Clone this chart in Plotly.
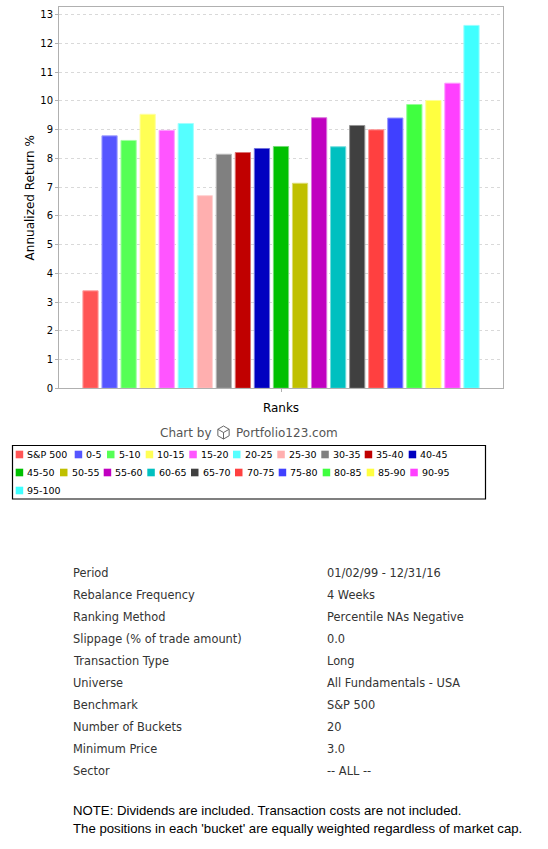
import plotly.graph_objects as go

# ---------------- data ----------------
categories = ["S&P 500", "0-5", "5-10", "10-15", "15-20", "20-25", "25-30", "30-35",
              "35-40", "40-45", "45-50", "50-55", "55-60", "60-65", "65-70", "70-75",
              "75-80", "80-85", "85-90", "90-95", "95-100"]
returns = [3.39, 8.78, 8.62, 9.53, 8.97, 9.21, 6.70, 8.14, 8.20, 8.34, 8.41,
           7.13, 9.41, 8.40, 9.14, 8.99, 9.40, 9.87, 10.01, 10.61, 12.62]
colors = ["#FF5555", "#5555FF", "#55FF55", "#FFFF55", "#FF55FF", "#55FFFF", "#FFAFAF",
          "#808080", "#C00000", "#0000C0", "#00C000", "#C0C000", "#C000C0", "#00C0C0",
          "#404040", "#FF4040", "#4040FF", "#40FF40", "#FFFF40", "#FF40FF", "#40FFFF"]
y_ticks = list(range(0, 14))

table_labels = ["Period", "Rebalance Frequency", "Ranking Method",
                "Slippage (% of trade amount)", "Transaction Type", "Universe",
                "Benchmark", "Number of Buckets", "Minimum Price", "Sector"]
table_values = ["01/02/99 - 12/31/16", "4 Weeks", "Percentile NAs Negative", "0.0",
                "Long", "All Fundamentals - USA", "S&P 500", "20", "3.0", "-- ALL --"]
note_lines = ["NOTE: Dividends are included. Transaction costs are not included.",
              "The positions in each 'bucket' are equally weighted regardless of market cap."]

# ---------------- geometry helpers ----------------
W, H = 548, 849
def px(x):
    return x / W
def py(y):
    return 1 - y / H

def lighten(hexc, f=0.45):
    hexc = hexc.lstrip("#")
    r, g, b = (int(hexc[i:i + 2], 16) for i in (0, 2, 4))
    r, g, b = (int(c + (255 - c) * f) for c in (r, g, b))
    return f"rgb({r},{g},{b})"

FONT = "DejaVu Sans"

fig = go.Figure()
for name, val, col in zip(categories, returns, colors):
    fig.add_trace(go.Bar(
        x=["Ranks"], y=[val], name=name,
        marker=dict(color=col, line=dict(color=lighten(col), width=1)),
        showlegend=False,
    ))

fig.update_layout(
    width=W, height=H, autosize=False,
    margin=dict(l=0, r=0, t=0, b=0),
    paper_bgcolor="white", plot_bgcolor="white",
    barmode="group", bargap=0.099, bargroupgap=0.2,
    font=dict(family=FONT, color="#000000"),
    xaxis=dict(
        domain=[px(59), px(503)],
        showticklabels=False, ticks="outside", ticklen=3, tickcolor="#b0b0b0",
        showline=True, linecolor="#b0b0b0", linewidth=1, mirror=True,
        showgrid=False, automargin=False,
        title=dict(text="Ranks", font=dict(size=12, color="#000000", family=FONT), standoff=12),
    ),
    yaxis=dict(
        domain=[py(388.3), py(7.3)],
        range=[0, 13.25], tickvals=y_ticks,
        ticks="outside", ticklen=3, tickcolor="#b0b0b0",
        tickfont=dict(size=10, color="#000000", family=FONT),
        showline=True, linecolor="#b0b0b0", linewidth=1, mirror=True,
        showgrid=True, gridcolor="#d9d9d9", gridwidth=1, griddash="3px,3px",
        zeroline=False, automargin=False,
        title=dict(text="Annualized Return %", font=dict(size=12, color="#000000", family=FONT), standoff=3),
    ),
)

annotations = []
shapes = []

# "Chart by Portfolio123.com" credit
annotations.append(dict(x=px(214), y=py(433), xref="paper", yref="paper", xanchor="right",
                        yanchor="middle", showarrow=False, text="Chart by",
                        font=dict(size=12, color="#555555", family=FONT)))
annotations.append(dict(x=px(234), y=py(433), xref="paper", yref="paper", xanchor="left",
                        yanchor="middle", showarrow=False, text="Portfolio123.com",
                        font=dict(size=12, color="#555555", family=FONT)))
# cube icon
cx, cy, r = 223.5, 432.5, 6.5
hexpts = [(cx, cy - r), (cx + r * 0.87, cy - r / 2), (cx + r * 0.87, cy + r / 2),
          (cx, cy + r), (cx - r * 0.87, cy + r / 2), (cx - r * 0.87, cy - r / 2)]
path = "M " + " L ".join(f"{px(a)},{py(b)}" for a, b in hexpts) + " Z"
path += f" M {px(cx - r*0.87)},{py(cy - r/2)} L {px(cx)},{py(cy)} L {px(cx + r*0.87)},{py(cy - r/2)}"
path += f" M {px(cx)},{py(cy)} L {px(cx)},{py(cy + r)}"
shapes.append(dict(type="path", xref="paper", yref="paper", path=path,
                   line=dict(color="#666666", width=1)))

# legend box
shapes.append(dict(type="rect", xref="paper", yref="paper",
                   x0=px(12.5), x1=px(485.5), y0=py(445.5), y1=py(499),
                   line=dict(color="#000000", width=1.2), fillcolor="rgba(0,0,0,0)"))
legend_rows_y = [454.5, 472.5, 490.5]
legend_x = [15.7, 74.7, 107, 145.7, 189.3, 233, 277.3, 321.3, 364.7, 408.7,
            15.7, 60, 103.7, 147.3, 191, 235, 278.7, 322.7, 366.7, 410.3,
            15.7]
for i, (name, col) in enumerate(zip(categories, colors)):
    row = i // 10
    yy = legend_rows_y[row]
    xx = legend_x[i]
    shapes.append(dict(type="rect", xref="paper", yref="paper",
                       x0=px(xx), x1=px(xx + 7.5), y0=py(yy + 3.8), y1=py(yy - 3.8),
                       line=dict(width=0), fillcolor=col))
    annotations.append(dict(x=px(xx + 9.5), y=py(yy), xref="paper", yref="paper",
                            xanchor="left", yanchor="middle", showarrow=False, text=name,
                            font=dict(size=9.5, color="#000000", family=FONT)))

# settings table
for k, (lab, val) in enumerate(zip(table_labels, table_values)):
    yy = 573 + 22 * k
    annotations.append(dict(x=px(71), y=py(yy), xref="paper", yref="paper", xanchor="left",
                            yanchor="middle", showarrow=False, text=lab,
                            font=dict(size=11.4, color="#333333", family=FONT)))
    annotations.append(dict(x=px(324.5), y=py(yy), xref="paper", yref="paper", xanchor="left",
                            yanchor="middle", showarrow=False, text=val,
                            font=dict(size=11.4, color="#333333", family=FONT)))
for k, line in enumerate(note_lines):
    annotations.append(dict(x=px(71), y=py(810.5 + 18 * k), xref="paper", yref="paper",
                            xanchor="left", yanchor="middle", showarrow=False, text=line,
                            font=dict(size=13.2, color="#000000", family="Liberation Sans")))

fig.update_layout(annotations=annotations, shapes=shapes)

fig.write_html("out.html", config={"displayModeBar": False},
               post_script="document.body.style.margin='0';")
